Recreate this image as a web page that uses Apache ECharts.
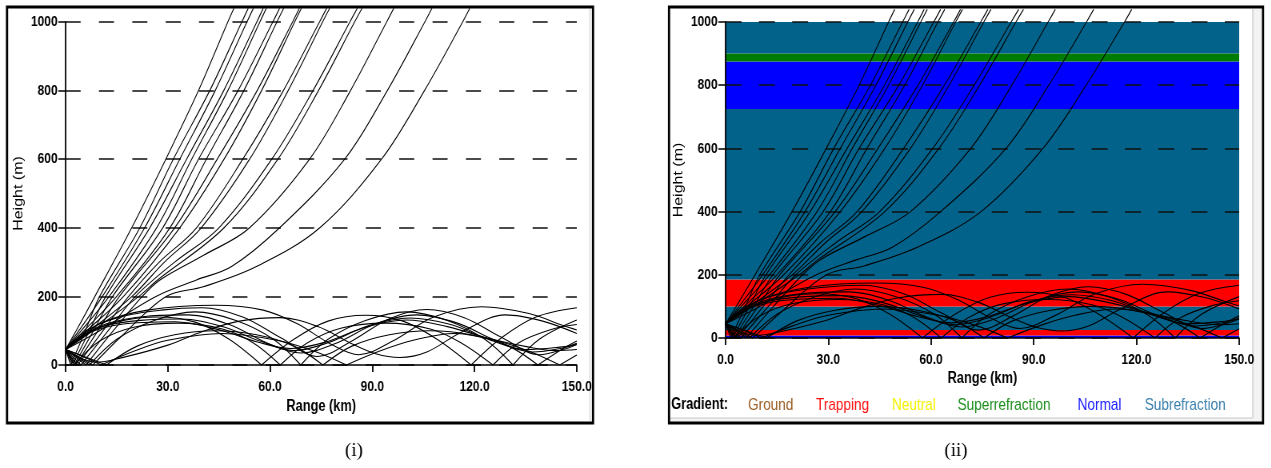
<!DOCTYPE html>
<html>
<head>
<meta charset="utf-8">
<title>Ray trace: height vs range</title>
<script src="https://cdn.jsdelivr.net/npm/echarts@6.0.0/dist/echarts.min.js"></script>
<style>
  html, body { margin: 0; padding: 0; background: #fff; overflow: hidden; }
  /* the source figure is squeezed horizontally; draw wide, then squeeze */
  #main { width: 1589px; height: 468px; transform: scaleX(0.8); transform-origin: 0 0; }
</style>
</head>
<body>
<div id="main"></div>
<script>
// axis ticks
const rangeTicks = [0, 30, 60, 90, 120, 150];   // km
const heightTicks = [0, 200, 400, 600, 800, 1000]; // m

// rays that climb out of the duct, [range km, height m]
const escapingRays = [
  [[0,45],[3.1,100],[8.6,200],[19.4,400],[29.4,600],[39,800],[47.6,1000],[49.4,1040]],
  [[0,45],[1.5,0],[5.8,100],[10,200],[21.8,400],[31.6,600],[42.3,800],[51.7,1000],[53.6,1040]],
  [[0,45],[3.9,100],[10.8,200],[23.2,400],[33.5,600],[43.9,800],[53.2,1000],[55.1,1040]],
  [[0,45],[2,0],[7,100],[11.8,200],[24.7,400],[35.5,600],[46.4,800],[56.1,1000],[58,1040]],
  [[0,45],[4.6,100],[12.8,200],[26.7,400],[37,600],[47.6,800],[57,1000],[58.9,1040]],
  [[0,45],[2.5,0],[8.2,100],[13.8,200],[28.5,400],[39,600],[50.6,800],[60.8,1000],[62.8,1040]],
  [[0,45],[5.4,100],[15,200],[30.6,400],[41.3,600],[52.3,800],[62,1000],[64,1040]],
  [[0,45],[3,0],[9.5,100],[15.8,200],[32,400],[44.5,600],[56.2,800],[66.6,1000],[68.6,1040]],
  [[0,45],[6.2,100],[17,200],[33.5,400],[46.5,600],[57.5,800],[67.2,1000],[69.2,1040]],
  [[0,45],[3.5,0],[11,100],[18.5,200],[27.5,300],[38.4,400],[52,600],[63.9,800],[74.5,1000],[76.6,1040]],
  [[0,45],[7.2,100],[19.5,200],[29,300],[39.8,400],[54,600],[65.3,800],[75.4,1000],[77.5,1040]],
  [[0,45],[4.5,0],[12.5,100],[20.5,200],[32,300],[45,400],[60.5,600],[72.6,800],[83.4,1000],[85.6,1040]],
  [[0,45],[8,100],[21.5,200],[27,248],[46.5,400],[62.3,600],[74.2,800],[84.8,1000],[87,1040]],
  [[0,45],[6,0],[14,100],[22.5,200],[27.7,248],[40.5,320],[54,400],[71.6,600],[83.6,800],[94.2,1000],[96.3,1040]],
  [[0,45],[10,100],[26.5,200],[38.4,248],[48.7,287],[62.8,400],[81.9,600],[94.4,800],[105.4,1000],[107.5,1040]],
  [[0,45],[8,0],[16,80],[29.5,200],[40.4,228],[56,287],[74.6,400],[92.7,600],[105.3,800],[116.5,1000],[118.6,1040]]
];

// rays bent back inside the duct without touching the ground
const ductRays = [
  [[0,45],[5,85],[12,115],[22,130],[34,134],[46,112],[57,70],[67,42],[77,65],[89,115],[101,137],[113,118],[124,75],[135,45],[145,52],[150,60]],
  [[0,45],[4,80],[12,120],[24,142],[36,146],[48,118],[59,65],[69,35],[79,62],[91,120],[103,146],[115,122],[126,72],[137,38],[146,50],[150,63]],
  [[0,45],[6,90],[16,118],[32,126],[46,100],[56,68],[66,48],[76,66],[88,110],[100,131],[112,112],[124,78],[136,52],[144,42],[150,45]],
  [[0,45],[6,100],[16,140],[28,160],[40,167],[52,140],[63,80],[74,25],[84,70],[95,135],[106,162],[117,138],[128,80],[139,30],[146,45],[150,60]],
  [[0,45],[10,120],[24,160],[44,174],[58,160],[68,120],[78,60],[86,30],[96,70],[108,140],[122,170],[136,150],[146,115],[150,102]],
  [[0,45],[4.5,20],[9,8],[16,20],[30,58],[40,97],[51,128],[63,138],[74,112],[84,62],[91,33],[98,22],[106,38],[116,95],[129,146],[140,128],[150,92]]
];

// rays reflected by the ground (height 0 = reflection point)
const groundRays = [
  [[0,45],[8,100],[17,130],[27,140],[38,125],[48,75],[57.5,0],[67,75],[77,128],[88,145],[99,128],[109,75],[119,0],[128,80],[138,140],[150,167]],
  [[0,45],[2.5,0],[10,70],[20,110],[33,122],[46,105],[55,65],[63,0],[71,65],[81,108],[94,122],[107,105],[116,65],[125.4,0],[133,65],[143,105],[150,118]],
  [[0,45],[7,0],[15,75],[26,130],[38,155],[50,130],[61,75],[69,0],[77,75],[88,130],[100,155],[112,130],[123,75],[131.3,0],[139,75],[150,131]],
  [[0,45],[12,0],[21,55],[32,88],[44,100],[56,88],[67,55],[75.5,0],[84,55],[95,88],[107,100],[119,88],[130,55],[138.6,0],[146,48],[150,70]],
  [[0,45],[5,25],[10.5,0],[20,40],[30,72],[46,92],[62,72],[73,40],[82.4,0],[92,40],[102,72],[114,92],[126,72],[136,40],[145,0],[150,29]]
];

// refractivity layers of panel (ii), heights in m
const layerBottom = [0, 8, 25, 100, 185, 725, 875, 900];
const layerTop    = [8, 25, 100, 185, 725, 875, 900, 1000];
const layerClass  = ['Normal', 'Trapping', 'Subrefraction', 'Trapping', 'Subrefraction', 'Normal', 'Superrefraction', 'Subrefraction'];

const gradientNames  = ['Ground', 'Trapping', 'Neutral', 'Superrefraction', 'Normal', 'Subrefraction'];
const gradientColors = ['#9c5f26', '#ff0000', '#ffff00', '#007d00', '#0000ff', '#03628a'];
const gradientText   = ['#9c5f26', '#ff1010', '#f2f200', '#1d8f1d', '#1a1aff', '#3a80ae'];

// everything below is in the wide (unsqueezed) frame: real x = 0.8 * x
const SQ = 0.8;
const legendX = [935, 1020, 1115, 1197, 1347, 1431];
const sans = "'Liberation Sans', Arial, sans-serif";

// cut a ray at its ground reflections so each bounce stays a sharp V
function splitAtGround(ray) {
  let parts = [];
  let cur = [];
  ray.forEach(function (p, i) {
    cur.push(p);
    if (p[1] === 0 && i > 0 && i < ray.length - 1) {
      parts.push(cur);
      cur = [p];
    }
  });
  parts.push(cur);
  return parts;
}

const grids = [
  { left: 82, top: 22, width: 639, height: 343, outerBoundsMode: 'none' },
  { left: 907, top: 22, width: 642, height: 316, outerBoundsMode: 'none' }
];
const dashes = [[18.8, 22.9], [20, 21.6]];

let xAxes = [], yAxes = [], series = [];
grids.forEach(function (g, gi) {
  xAxes.push({
    gridIndex: gi, type: 'value',
    min: rangeTicks[0], max: rangeTicks[rangeTicks.length - 1], interval: 30,
    name: 'Range (km)', nameLocation: 'middle', nameGap: gi === 0 ? 34 : 33, nameMoveOverlap: false,
    nameTextStyle: { fontFamily: sans, fontWeight: 'bold', fontSize: 16, color: '#000' },
    axisLine: { show: true, lineStyle: { color: '#000', width: 1.5 } },
    axisTick: { show: true, length: 7, lineStyle: { color: '#000', width: 1.8 } },
    axisLabel: { margin: 14, fontFamily: sans, fontWeight: 'bold', fontSize: 15, color: '#000',
      formatter: function (v) { return v.toFixed(1); } },
    splitLine: { show: false },
    z: 2
  });
  yAxes.push({
    gridIndex: gi, type: 'value',
    min: heightTicks[0], max: heightTicks[heightTicks.length - 1], interval: 200,
    name: 'Height (m)', nameLocation: 'middle', nameGap: 50, nameRotate: 90, nameMoveOverlap: false,
    nameTextStyle: { fontFamily: sans, fontSize: 16, color: '#000' },
    axisLine: { show: true, lineStyle: { color: '#000', width: 1.8 } },
    axisTick: { show: true, length: 9, lineStyle: { color: '#000', width: 1.5 } },
    axisLabel: { margin: 10, fontFamily: sans, fontWeight: 'bold', fontSize: 15, color: '#000',
      formatter: function (v) { return String(v); } },
    splitLine: { show: true, lineStyle: { color: '#111', width: 1.6, type: dashes[gi] } },
    z: 2
  });

  let rays = escapingRays.concat(ductRays, groundRays);
  rays.forEach(function (ray) {
    splitAtGround(ray).forEach(function (seg) {
      series.push({
        type: 'line', xAxisIndex: gi, yAxisIndex: gi,
        data: seg, smooth: 0.35, symbol: 'none', clip: false,
        lineStyle: { color: '#000', width: 1.1 },
        silent: true, z: 3
      });
    });
  });
});

// coloured gradient layers behind the rays of panel (ii)
series.push({
  type: 'custom', xAxisIndex: 1, yAxisIndex: 1, z: 1, silent: true,
  data: layerBottom.map(function (b, i) {
    return [b, layerTop[i], gradientNames.indexOf(layerClass[i])];
  }),
  renderItem: function (params, api) {
    let p0 = api.coord([rangeTicks[0], api.value(1)]);
    let p1 = api.coord([rangeTicks[rangeTicks.length - 1], api.value(0)]);
    return {
      type: 'rect',
      shape: { x: p0[0], y: p0[1], width: p1[0] - p0[0], height: p1[1] - p0[1] },
      style: { fill: gradientColors[api.value(2)] }
    };
  }
});

let graphics = [
  { type: 'rect', shape: { x: 8.8, y: 7, width: 732.5, height: 416 }, style: { fill: 'none', stroke: '#000', lineWidth: 2.8 } },
  { type: 'line', shape: { x1: 737.5, y1: 9, x2: 737.5, y2: 421 }, style: { stroke: '#d0d0d0', lineWidth: 1.2 } },
  { type: 'rect', shape: { x: 1566, y: 9, width: 11, height: 413 }, style: { fill: '#f3f3f3' } },
  { type: 'rect', shape: { x: 837, y: 418, width: 740, height: 4 }, style: { fill: '#f3f3f3' } },
  { type: 'line', shape: { x1: 1566, y1: 9, x2: 1566, y2: 418 }, style: { stroke: '#c8c8c8', lineWidth: 1.2 } },
  { type: 'line', shape: { x1: 837, y1: 418, x2: 1566, y2: 418 }, style: { stroke: '#c8c8c8', lineWidth: 1 } },
  { type: 'rect', shape: { x: 836.3, y: 7, width: 742.5, height: 416 }, style: { fill: 'none', stroke: '#000', lineWidth: 2.8 } },
  { type: 'text', x: 442.5, y: 451, scaleX: 1 / SQ, style: { text: '(i)', font: "19px 'Liberation Serif', serif", fill: '#000', align: 'center', verticalAlign: 'middle' } },
  { type: 'text', x: 1195, y: 451, scaleX: 1 / SQ, style: { text: '(ii)', font: "19px 'Liberation Serif', serif", fill: '#000', align: 'center', verticalAlign: 'middle' } },
  { type: 'text', x: 839, y: 405, style: { text: 'Gradient:', fontFamily: sans, fontWeight: 'bold', fontSize: 16, fill: '#000', align: 'left', verticalAlign: 'middle' } }
];
gradientNames.forEach(function (name, i) {
  graphics.push({
    type: 'text', x: legendX[i], y: 405,
    style: { text: name, fontFamily: sans, fontSize: 17, fill: gradientText[i], align: 'left', verticalAlign: 'middle' }
  });
});

let myChart = echarts.init(document.getElementById('main'), null, { renderer: 'canvas' });
myChart.setOption({
  animation: false,
  backgroundColor: '#fff',
  grid: grids,
  xAxis: xAxes,
  yAxis: yAxes,
  series: series,
  graphic: graphics
});
</script>
</body>
</html>
